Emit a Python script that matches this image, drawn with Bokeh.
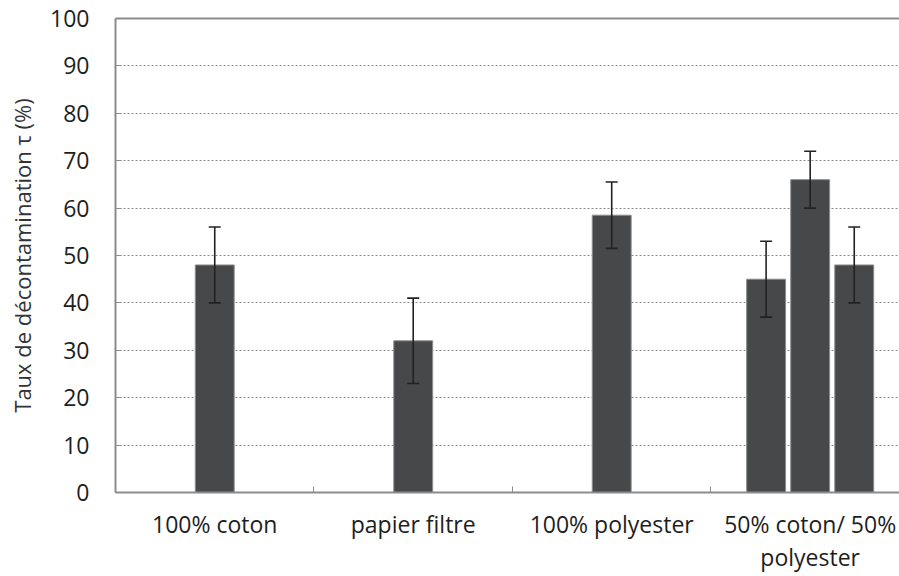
from bokeh.plotting import figure
from bokeh.models import (ColumnDataSource, FixedTicker, LinearAxis, Whisker, TeeHead, Range1d)
from bokeh.embed import file_html
from bokeh.resources import INLINE

categories = ["100% coton", "papier filtre", "100% polyester", "50% coton/ 50%\npolyester"]
values = [[48], [32], [58.5], [45, 66, 48]]
errors = [[8], [9], [7], [8, 6, 8]]
y_ticks = [0, 10, 20, 30, 40, 50, 60, 70, 80, 90, 100]

FONT = "Open Sans"
BAR_STEP = 0.222
BAR_WIDTH = 0.196

xs, ys, ups, los = [], [], [], []
for i, (vals, errs) in enumerate(zip(values, errors)):
    n = len(vals)
    for k, (v, e) in enumerate(zip(vals, errs)):
        xs.append(i + 1 + (k - (n - 1) / 2) * BAR_STEP)
        ys.append(v)
        ups.append(v + e)
        los.append(v - e)
src = ColumnDataSource(dict(x=xs, y=ys, upper=ups, lower=los))

p = figure(width=899, height=576, output_backend="svg", toolbar_location=None,
           x_range=Range1d(0.5, 4.45), y_range=Range1d(0, 100),
           min_border_left=115, min_border_right=0, min_border_top=18, min_border_bottom=84)
p.outline_line_color = None
p.background_fill_color = "white"

p.vbar(x="x", top="y", width=BAR_WIDTH, source=src, fill_color="#47484a",
       line_color="#8d8d8d", line_width=1)

w = Whisker(base="x", upper="upper", lower="lower", source=src, line_color="#222222", line_width=1.6,
            upper_head=TeeHead(size=12, line_color="#222222", line_width=1.6),
            lower_head=TeeHead(size=12, line_color="#222222", line_width=1.6))
w.level = "annotation"
p.add_layout(w)

# y axis
ya = p.yaxis[0]
ya.ticker = FixedTicker(ticks=y_ticks)
ya.axis_line_color = "#8c8c8c"
ya.axis_line_width = 2
ya.major_tick_in = 6
ya.major_tick_out = 0
ya.major_tick_line_color = "#8c8c8c"
ya.minor_tick_line_color = None
ya.major_label_text_font = FONT
ya.major_label_text_font_size = "23px"
ya.major_label_text_color = "#1e1e1e"
ya.major_label_standoff = 26
ya.axis_label = "Taux de décontamination τ (%)"
ya.axis_label_text_font = FONT
ya.axis_label_text_font_size = "22px"
ya.axis_label_text_font_style = "normal"
ya.axis_label_text_color = "#333333"
ya.axis_label_standoff = 10

# x axis
xa = p.xaxis[0]
xa.ticker = FixedTicker(ticks=[1, 2, 3, 4], minor_ticks=[1.5, 2.5, 3.5])
xa.major_label_overrides = {i + 1: c for i, c in enumerate(categories)}
xa.axis_line_color = "#8c8c8c"
xa.axis_line_width = 2
xa.major_tick_in = 0
xa.major_tick_out = 0
xa.minor_tick_in = 6
xa.minor_tick_out = 0
xa.minor_tick_line_color = "#8c8c8c"
xa.major_label_text_font = FONT
xa.major_label_text_font_size = "23px"
xa.major_label_text_color = "#1e1e1e"
xa.major_label_text_line_height = 1.05
xa.major_label_standoff = 15

# top border
top = LinearAxis(ticker=FixedTicker(ticks=[]), axis_line_color="#8c8c8c", axis_line_width=2,
                 major_tick_in=0, major_tick_out=0, minor_tick_in=0, minor_tick_out=0,
                 major_label_text_font_size="0px")
p.add_layout(top, "above")

p.xgrid.visible = False
p.ygrid.ticker = FixedTicker(ticks=y_ticks[1:-1])
p.ygrid.grid_line_color = "#8a8a8a"
p.ygrid.grid_line_dash = "2 2"
p.ygrid.grid_line_width = 1

open("out.html", "w").write(file_html(p, INLINE))
